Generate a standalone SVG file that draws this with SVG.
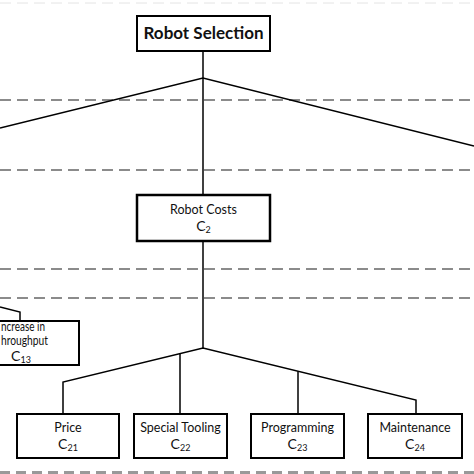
<svg xmlns="http://www.w3.org/2000/svg" width="474" height="474" viewBox="0 0 474 474">
<style>
.box{fill:#fff;stroke:#000;stroke-width:2}
.t{font-family:Lato,"Open Sans","Liberation Sans",sans-serif;font-size:12.5px;fill:#111;text-anchor:middle}
.b{font-weight:bold;font-size:17px}
.c{font-size:14px}
.sub{font-size:9px}
.dash{stroke:#666;stroke-width:1.3;stroke-dasharray:11 6;fill:none}
.ln{stroke:#000;stroke-width:1.5;fill:none}
</style>
<rect width="474" height="474" fill="#fff"/>
<g id="guides">
<line class="dash" x1="0" y1="3" x2="474" y2="3" style="stroke:#e4e4e4;stroke-width:1"/>
<line class="dash" x1="0" y1="100" x2="474" y2="100"/>
<line class="dash" x1="0" y1="170" x2="474" y2="170"/>
<line class="dash" x1="0" y1="269" x2="474" y2="269"/>
<line class="dash" x1="0" y1="298" x2="474" y2="298"/>
<line class="dash" x1="0" y1="473" x2="474" y2="473" style="stroke:#999;stroke-width:4;stroke-dasharray:10 6"/>
</g>
<g id="connectors">
<polyline class="ln" points="203,51 203,195"/>
<polyline class="ln" points="0,128 203,78 474,146"/>
<polyline class="ln" points="203,241 203,348"/>
<polyline class="ln" points="0,307 20,312 20,321"/>
<polyline class="ln" points="63,414 63,382 203,348 416,400 416,414"/>
<polyline class="ln" points="180,353.6 180,414"/>
<polyline class="ln" points="298,371.2 298,414"/>
</g>
<g id="n-robot-selection">
<rect class="box" x="137" y="16" width="133" height="35"/>
<text class="t b" x="203.5" y="39">Robot Selection</text>
</g>
<g id="n-robot-costs">
<rect class="box" x="137" y="195" width="133" height="46" style="stroke-width:2.5"/>
<text class="t" x="203.5" y="214">Robot Costs</text>
<text class="t c" x="203.5" y="231">C<tspan class="sub" dy="2">2</tspan></text>
</g>
<g id="n-c13">
<rect class="box" x="-5" y="321" width="84" height="44"/>
<text class="t" x="1" y="331" style="text-anchor:start" textLength="44" lengthAdjust="spacingAndGlyphs">ncrease in</text>
<text class="t" x="1" y="345" style="text-anchor:start" textLength="47" lengthAdjust="spacingAndGlyphs">hroughput</text>
<text class="t c" x="21" y="361">C<tspan class="sub" dy="2">13</tspan></text>
</g>
<g id="n-c21">
<rect class="box" x="17" y="414" width="102" height="44"/>
<text class="t" x="68" y="432">Price</text>
<text class="t c" x="68" y="449">C<tspan class="sub" dy="2">21</tspan></text>
</g>
<g id="n-c22">
<rect class="box" x="134" y="414" width="93" height="44"/>
<text class="t" x="180.5" y="432">Special Tooling</text>
<text class="t c" x="180.5" y="449">C<tspan class="sub" dy="2">22</tspan></text>
</g>
<g id="n-c23">
<rect class="box" x="251" y="414" width="93" height="44"/>
<text class="t" x="297.5" y="432">Programming</text>
<text class="t c" x="297.5" y="449">C<tspan class="sub" dy="2">23</tspan></text>
</g>
<g id="n-c24">
<rect class="box" x="368" y="414" width="94" height="44"/>
<text class="t" x="415" y="432">Maintenance</text>
<text class="t c" x="415" y="449">C<tspan class="sub" dy="2">24</tspan></text>
</g>
</svg>
